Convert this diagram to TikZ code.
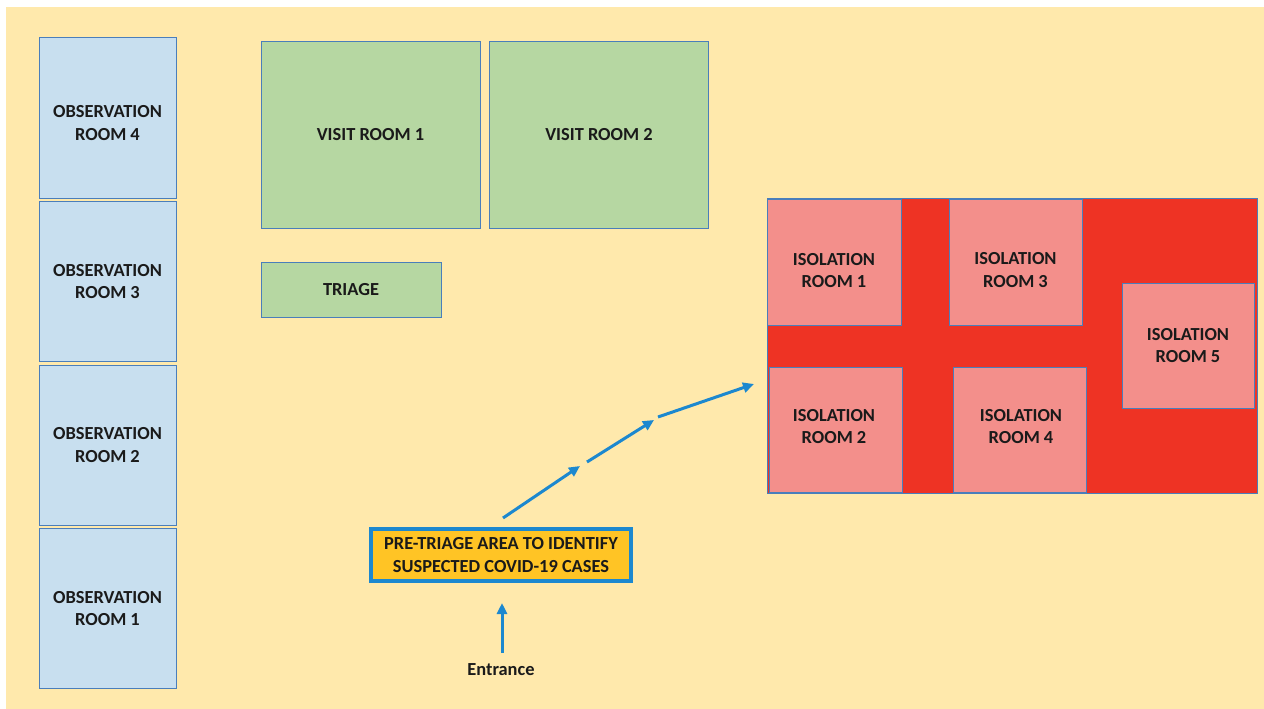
\documentclass[tikz,border=0pt]{standalone}
\usepackage{fontspec}
\setmainfont{Carlito}
\usetikzlibrary{arrows.meta}
\definecolor{bgyellow}{HTML}{FFE9AC}
\definecolor{obsfill}{HTML}{C8DFEF}
\definecolor{edgeblue}{HTML}{4A7EBB}
\definecolor{greenfill}{HTML}{B6D7A2}
\definecolor{redarea}{HTML}{EE3324}
\definecolor{pinkroom}{HTML}{F38F8B}
\definecolor{arrowblue}{HTML}{1C88CF}
\definecolor{gold}{HTML}{FFC425}
\definecolor{txt}{HTML}{1A1A1A}
\tikzset{
  label text/.style={align=center, inner sep=0pt, text=txt,
    font=\fontsize{18.4}{22.5}\selectfont\bfseries},
  room/.style={draw=edgeblue, line width=1pt, label text},
  obsroom/.style={room, fill=obsfill, minimum width=137pt, minimum height=160pt},
  visitroom/.style={room, fill=greenfill, minimum width=219pt, minimum height=186pt},
  isoroom/.style={room, fill=pinkroom, minimum width=134pt, minimum height=126pt},
  flow/.style={draw=arrowblue, line width=3pt, -{Triangle[length=11pt,width=10pt]}},
}
\begin{document}
\begin{tikzpicture}[x=1pt,y=-1pt]
\useasboundingbox (0,0) rectangle (1264,709);
\fill[white] (0,0) rectangle (1264,709);
\fill[bgyellow] (6,7) rectangle (1264,709);
% observation rooms
\node[obsroom] (obs4) at (107.5,118) {};
\node[label text] (obs4t) at (107.5,123) {OBSERVATION\\ROOM 4};
\node[obsroom] (obs3) at (107.5,281.5) {OBSERVATION\\ROOM 3};
\node[obsroom] (obs2) at (107.5,445) {OBSERVATION\\ROOM 2};
\node[obsroom] (obs1) at (107.5,608.5) {OBSERVATION\\ROOM 1};
% visit rooms and triage
\node[visitroom] (visit1) at (370.5,135) {VISIT ROOM 1};
\node[visitroom] (visit2) at (599,135) {VISIT ROOM 2};
\node[room, fill=greenfill, minimum width=180pt, minimum height=55pt] (triage) at (351,289.5) {TRIAGE};
% isolation area
\node[draw=edgeblue, line width=1pt, fill=redarea, minimum width=490pt, minimum height=295pt, inner sep=0pt] (isoarea) at (1012,345.5) {};
\node[isoroom] (iso1) at (834,262) {};
\node[label text] (iso1t) at (834,270.5) {ISOLATION\\ROOM 1};
\node[isoroom, minimum width=133pt] (iso3) at (1015.5,262) {};
\node[label text] (iso3t) at (1015.5,270) {ISOLATION\\ROOM 3};
\node[isoroom, minimum width=132pt, minimum height=125pt] (iso5) at (1188,345.5) {ISOLATION\\ROOM 5};
\node[isoroom, minimum width=133pt, minimum height=125pt] (iso2) at (835.5,429.5) {};
\node[label text] (iso2t) at (834,426.5) {ISOLATION\\ROOM 2};
\node[isoroom, minimum width=133pt, minimum height=125pt] (iso4) at (1019.5,429.5) {};
\node[label text] (iso4t) at (1021,426.5) {ISOLATION\\ROOM 4};
% pre-triage
\node[draw=arrowblue, line width=4pt, fill=gold, minimum width=260pt, minimum height=52pt, label text] (pre) at (501,555) {PRE-TRIAGE AREA TO IDENTIFY\\SUSPECTED COVID-19 CASES};
\node[label text] (ent) at (501,670) {Entrance};
% arrows
\coordinate (e1) at (502,653);
\coordinate (e2) at (502,603);
\coordinate (p1) at (503,518);
\coordinate (p2) at (580,466);
\coordinate (p3) at (587,462);
\coordinate (p4) at (654,420);
\coordinate (p5) at (658,417);
\coordinate (p6) at (754,384);
\draw[flow] (e1) -- (e2);
\draw[flow] (p1) -- (p2);
\draw[flow] (p3) -- (p4);
\draw[flow] (p5) -- (p6);
\end{tikzpicture}
\end{document}
